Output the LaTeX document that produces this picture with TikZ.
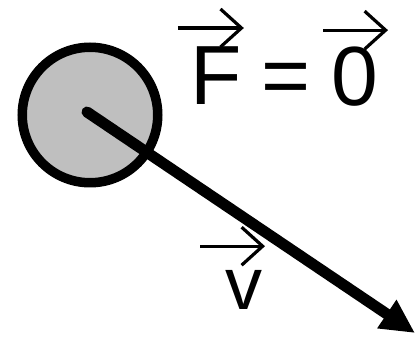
\documentclass[tikz,border=0pt]{standalone}
\usepackage{fontspec}
\setmainfont{Liberation Sans}
\usetikzlibrary{arrows.meta}

\tikzset{
  bigtext/.style={inner sep=0pt, font=\fontsize{84}{86}\selectfont},
  midtext/.style={inner sep=0pt, font=\fontsize{74}{76}\selectfont},
  vecbar/.style={line width=3.2pt, -{Straight Barb[length=21pt, width=38pt]}},
}

\begin{document}
\begin{tikzpicture}[x=1pt, y=-1pt]
    \useasboundingbox (0,0) rectangle (416,339);
    % ball and velocity
    \node[circle, draw, line width=9.5pt, fill=black!25, minimum size=135.5pt] (ball) at (90,115) {};
    \coordinate (tip) at (415,333);
    \draw[line width=11pt, line cap=round, -{Triangle[length=34pt, width=32pt]}] ([shift={(-3,-3)}]ball.center) -- (tip);
    % F = 0
    \node[bigtext, anchor=base west] (F) at (190,105) {F};
    \node[bigtext, anchor=base] (eq) at (286,105) {=};
    \node[bigtext, anchor=base] (zero) at (355,106) {0};
    \draw[vecbar] ([shift={(-38,-19)}]F.north) -- ([shift={(28,-19)}]F.north);
    \draw[vecbar] ([shift={(-32,-17)}]zero.north) -- ([shift={(33,-17)}]zero.north);
    % v
    \node[midtext, anchor=base] (v) at (243.5,310) {v};
    \draw[vecbar] ([shift={(-43.5,-24.5)}]v.north) -- ([shift={(21.5,-24.5)}]v.north);
\end{tikzpicture}
\end{document}
